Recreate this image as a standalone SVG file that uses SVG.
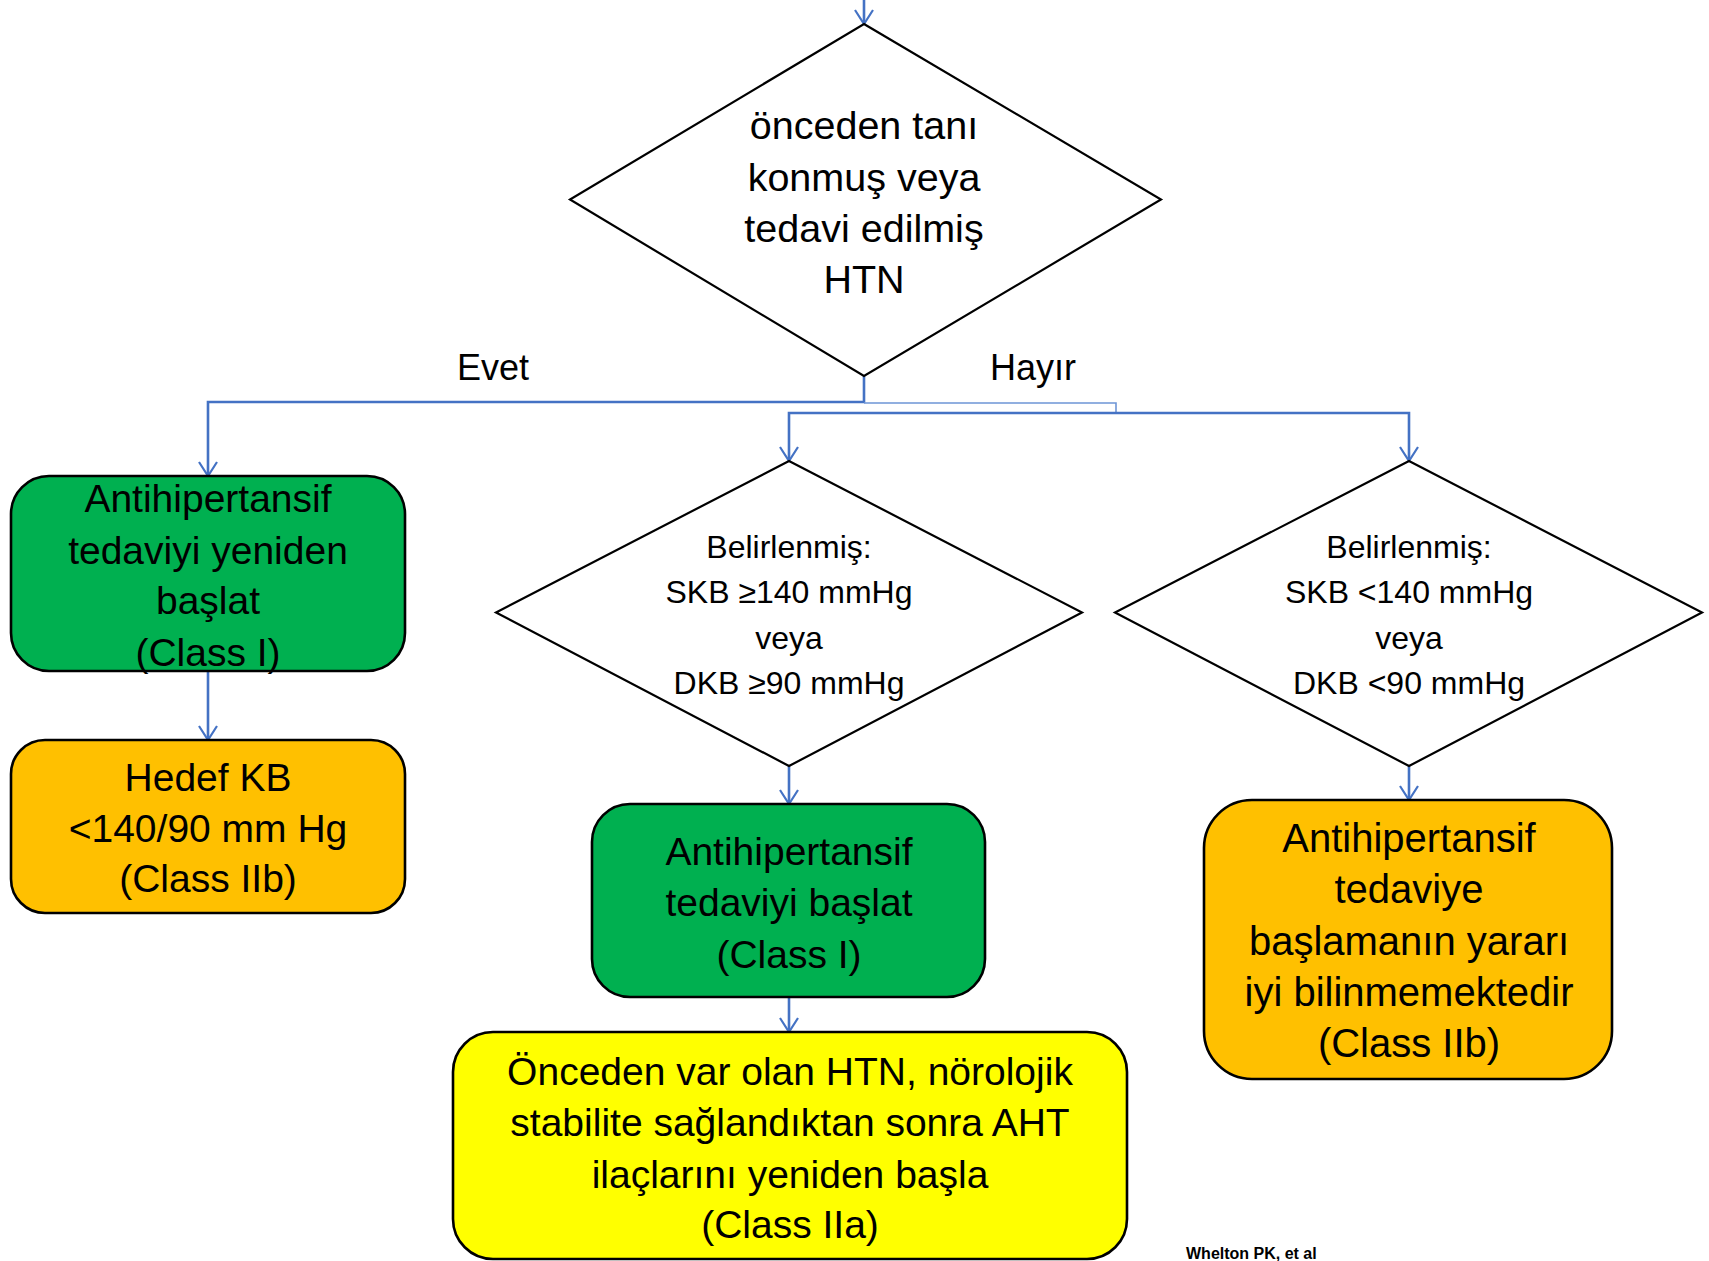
<svg xmlns="http://www.w3.org/2000/svg" width="1709" height="1261" viewBox="0 0 1709 1261">
<defs>
<marker id="arr" viewBox="0 0 20 20" refX="18" refY="10" markerWidth="20" markerHeight="20" markerUnits="userSpaceOnUse" orient="auto">
<path d="M4,1 L18,10 L4,19" fill="none" stroke="#4472C4" stroke-width="2.2"/>
</marker>
<style>
.t{font-family:"Liberation Sans",Arial,sans-serif;fill:#000;text-anchor:middle}
.big{font-size:39px}
.mid{font-size:32px}
.dia{fill:#fff;stroke:#000;stroke-width:2.2}
.box{stroke:#000;stroke-width:2.6}
.c{fill:none;stroke:#4472C4;stroke-width:2.6}
.cl{fill:none;stroke:#6E95D6;stroke-width:1.6}
</style>
</defs>
<rect width="1709" height="1261" fill="#fff"/>
<g id="connectors">
<path class="c" d="M864,0 V24" marker-end="url(#arr)"/>
<path class="c" d="M864,376 V402 H208 V476" marker-end="url(#arr)"/>
<path class="cl" d="M864,403 H1116 V413"/>
<path class="c" d="M1116,413 H789 V461" marker-end="url(#arr)"/>
<path class="c" d="M1116,413 H1409 V461" marker-end="url(#arr)"/>
<path class="c" d="M208,671 V740" marker-end="url(#arr)"/>
<path class="c" d="M789,766 V804" marker-end="url(#arr)"/>
<path class="c" d="M789,997 V1032" marker-end="url(#arr)"/>
<path class="c" d="M1409,766 V800" marker-end="url(#arr)"/>
</g>
<g id="label-evet"><text class="t" x="493" y="380" style="font-size:36px">Evet</text></g>
<g id="label-hayir"><text class="t" x="1033" y="380" style="font-size:36px">Hayır</text></g>
<g id="d1">
<polygon class="dia" points="864,24 1161,199.5 864,376 570,199.5"/>
<text class="t" style="font-size:39.5px"><tspan x="864" y="139">önceden tanı</tspan><tspan x="864" y="191">konmuş veya</tspan><tspan x="864" y="242">tedavi edilmiş</tspan><tspan x="864" y="293">HTN</tspan></text>
</g>
<g id="b1">
<rect class="box" x="11" y="476" width="394" height="195" rx="38" fill="#00B050"/>
<text class="t big"><tspan x="208" y="512">Antihipertansif</tspan><tspan x="208" y="564">tedaviyi yeniden</tspan><tspan x="208" y="614">başlat</tspan><tspan x="208" y="666">(Class I)</tspan></text>
</g>
<g id="b2">
<rect class="box" x="11" y="740" width="394" height="173" rx="34" fill="#FFC000"/>
<text class="t big"><tspan x="208" y="791">Hedef KB</tspan><tspan x="208" y="842">&lt;140/90 mm Hg</tspan><tspan x="208" y="892">(Class IIb)</tspan></text>
</g>
<g id="d2">
<polygon class="dia" points="789,461 1082,612.5 789,766 496,612.5"/>
<text class="t mid"><tspan x="789" y="558">Belirlenmiş:</tspan><tspan x="789" y="603">SKB ≥140 mmHg</tspan><tspan x="789" y="649">veya</tspan><tspan x="789" y="694">DKB ≥90 mmHg</tspan></text>
</g>
<g id="d3">
<polygon class="dia" points="1409,461 1702,612.5 1409,766 1115,612.5"/>
<text class="t mid"><tspan x="1409" y="558">Belirlenmiş:</tspan><tspan x="1409" y="603">SKB &lt;140 mmHg</tspan><tspan x="1409" y="649">veya</tspan><tspan x="1409" y="694">DKB &lt;90 mmHg</tspan></text>
</g>
<g id="b3">
<rect class="box" x="592" y="804" width="393" height="193" rx="38" fill="#00B050"/>
<text class="t big"><tspan x="789" y="865">Antihipertansif</tspan><tspan x="789" y="916">tedaviyi başlat</tspan><tspan x="789" y="968">(Class I)</tspan></text>
</g>
<g id="b4">
<rect class="box" x="453" y="1032" width="674" height="227" rx="40" fill="#FFFF00"/>
<text class="t big"><tspan x="790" y="1085">Önceden var olan HTN, nörolojik</tspan><tspan x="790" y="1136">stabilite sağlandıktan sonra AHT</tspan><tspan x="790" y="1188">ilaçlarını yeniden başla</tspan><tspan x="790" y="1238">(Class IIa)</tspan></text>
</g>
<g id="b5">
<rect class="box" x="1204" y="800" width="408" height="279" rx="48" fill="#FFC000"/>
<text class="t" style="font-size:40px"><tspan x="1409" y="852">Antihipertansif</tspan><tspan x="1409" y="903">tedaviye</tspan><tspan x="1409" y="955">başlamanın yararı</tspan><tspan x="1409" y="1006">iyi bilinmemektedir</tspan><tspan x="1409" y="1057">(Class IIb)</tspan></text>
</g>
<g id="credit"><text x="1186" y="1259" style="font-family:'Liberation Sans',Arial,sans-serif;font-size:16px;font-weight:bold;fill:#000">Whelton PK, et al</text></g>
</svg>
